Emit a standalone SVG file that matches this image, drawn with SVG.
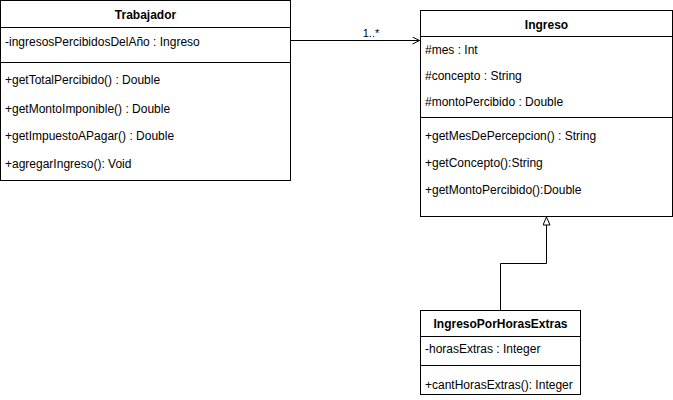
<svg xmlns="http://www.w3.org/2000/svg" width="673" height="400" viewBox="0 0 673 400">
<style>
.box{fill:#ffffff;stroke:#000000;stroke-width:1}
.ln{stroke:#000000;stroke-width:1;fill:none}
text{font-family:"Liberation Sans",Arial,Helvetica,sans-serif;font-size:12px;fill:#000000}
.t{font-weight:bold;text-anchor:middle}
</style>
<defs>
<marker id="open" markerWidth="10" markerHeight="10" refX="8" refY="4" orient="auto" markerUnits="userSpaceOnUse">
<path d="M1,0.5 L8,4 L1,7.5" fill="none" stroke="#000" stroke-width="1"/>
</marker>
<marker id="tri" markerWidth="12" markerHeight="12" refX="9" refY="4" orient="auto" markerUnits="userSpaceOnUse">
<path d="M1,0.5 L9,4 L1,7.5 Z" fill="#fff" stroke="#000" stroke-width="1"/>
</marker>
</defs>
<g id="connectors">
<path class="ln" d="M290.5,40.5 L419.5,40.5" marker-end="url(#open)"/>
<text x="371" y="37" text-anchor="middle" font-size="11px" style="font-size:11px">1..*</text>
<path class="ln" d="M500.5,310 L500.5,263.5 L546.5,263.5 L546.5,217" marker-end="url(#tri)"/>
</g>
<g id="Trabajador">
<rect class="box" x="0.5" y="0.5" width="290" height="180"/>
<line class="ln" x1="0.5" y1="27.5" x2="290.5" y2="27.5"/>
<line class="ln" x1="0.5" y1="62.5" x2="290.5" y2="62.5"/>
<text class="t" x="145.5" y="19">Trabajador</text>
<text x="5" y="45.5">-ingresosPercibidosDelAño : Ingreso</text>
<text x="5" y="84">+getTotalPercibido() : Double</text>
<text x="5" y="112.5">+getMontoImponible() : Double</text>
<text x="5" y="140">+getImpuestoAPagar() : Double</text>
<text x="5" y="168">+agregarIngreso(): Void</text>
</g>
<g id="Ingreso">
<rect class="box" x="420.5" y="10.5" width="252" height="206"/>
<line class="ln" x1="420.5" y1="36.5" x2="672.5" y2="36.5"/>
<line class="ln" x1="420.5" y1="117.5" x2="672.5" y2="117.5"/>
<text class="t" x="546.5" y="29">Ingreso</text>
<text x="425" y="54">#mes : Int</text>
<text x="425" y="80">#concepto : String</text>
<text x="425" y="105.5">#montoPercibido : Double</text>
<text x="425" y="140">+getMesDePercepcion() : String</text>
<text x="425" y="166.5">+getConcepto():String</text>
<text x="425" y="194">+getMontoPercibido():Double</text>
</g>
<g id="IngresoPorHorasExtras">
<rect class="box" x="420.5" y="310.5" width="160" height="84"/>
<line class="ln" x1="420.5" y1="336.5" x2="580.5" y2="336.5"/>
<line class="ln" x1="420.5" y1="365.5" x2="580.5" y2="365.5"/>
<text class="t" x="500.5" y="327.5">IngresoPorHorasExtras</text>
<text x="425" y="352.5">-horasExtras : Integer</text>
<text x="425" y="388.5">+cantHorasExtras(): Integer</text>
</g>
</svg>
